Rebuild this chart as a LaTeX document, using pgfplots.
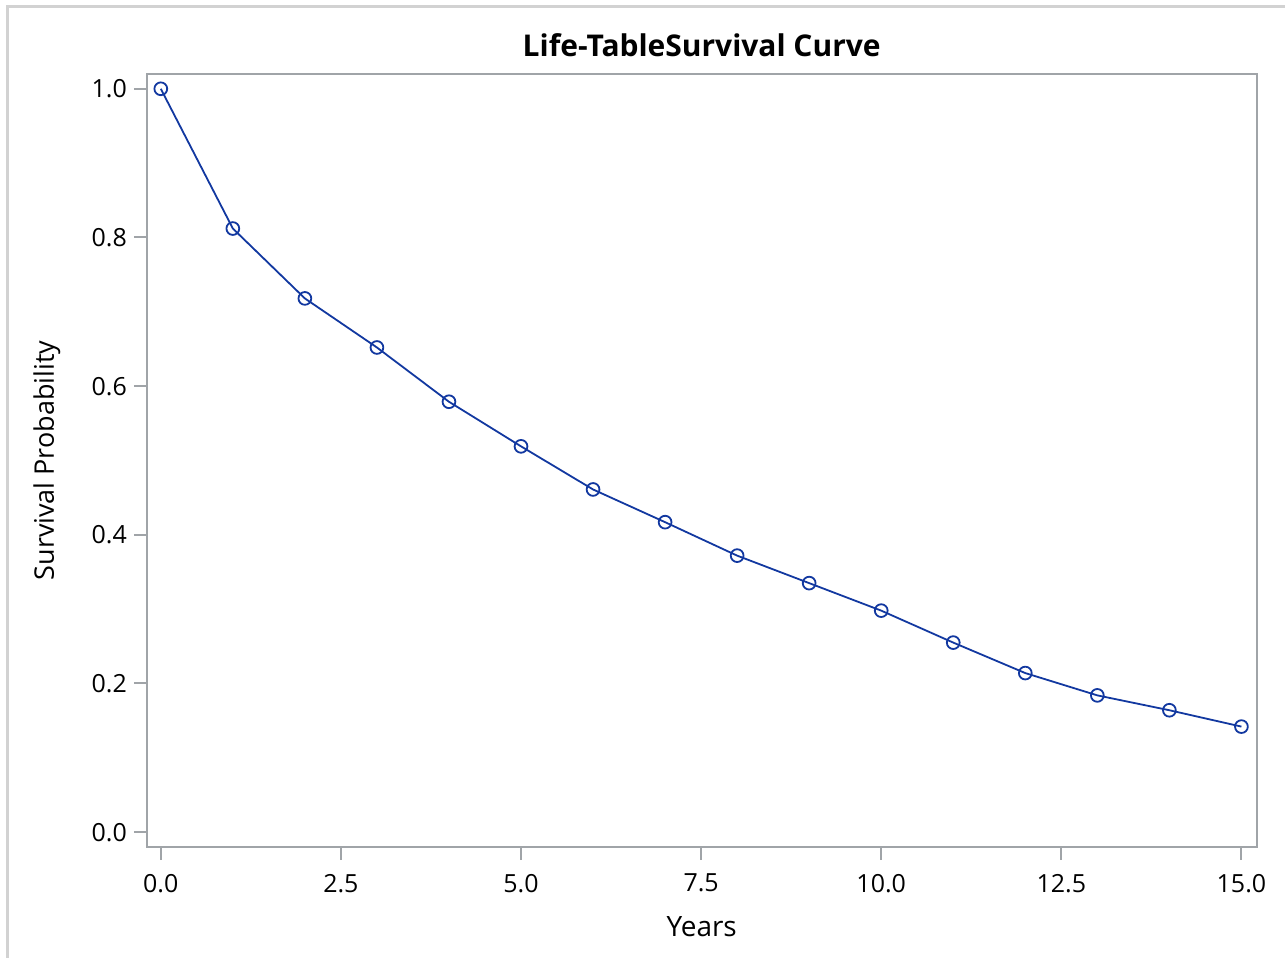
\documentclass[border=0pt]{standalone}
\usepackage{fontspec}
\setmainfont{Open Sans}
\usepackage{pgfplots}
\pgfplotsset{compat=1.18}
\definecolor{sasline}{RGB}{18,56,160}
\definecolor{axgray}{RGB}{160,164,168}
\definecolor{edge}{RGB}{210,210,210}
\begin{document}
\begin{tikzpicture}
% page is 1286x959 px at 0.5pt per px
\path (0pt,0pt) rectangle (643pt,479.5pt);
\draw[edge,line width=1.5pt] (4pt,0pt) -- (4pt,476pt) -- (643pt,476pt);
\begin{axis}[
  at={(73.5pt,55.5pt)}, anchor=south west,
  scale only axis,
  width=555.5pt, height=387pt,
  xmin=-0.194, xmax=15.21,
  ymin=-0.020, ymax=1.020,
  xtick={0,2.5,...,15}, ytick={0,0.2,...,1},
  xtick pos=bottom, ytick pos=left,
  xticklabel style={/pgf/number format/.cd,fixed,fixed zerofill,precision=1},
  yticklabel style={/pgf/number format/.cd,fixed,fixed zerofill,precision=1},
  xticklabel shift=3.5pt,
  /pgf/number format/assume math mode=true,
  tick align=outside, tick style={axgray,line width=1pt},
  major tick length=6.5pt,
  axis line style={axgray,line width=1pt},
  tick label style={font=\fontsize{12.5}{14}\selectfont},
  title={\bfseries Life-TableSurvival Curve},
  title style={font=\fontsize{15}{18}\selectfont, at={(axis description cs:0.5,1.022)}, anchor=center},
  xlabel={Years}, ylabel={Survival Probability},
  xlabel style={font=\fontsize{14}{16}\selectfont, at={(axis description cs:0.5,-0.1034)}, anchor=center},
  ylabel style={font=\fontsize{13.5}{16}\selectfont, at={(axis description cs:-0.090,0.5)}, anchor=center},
]
\addplot[sasline, line width=0.9pt, mark=o, mark size=3.2pt, mark options={line width=0.9pt}] coordinates {
(0,1.000) (1,0.812) (2,0.718) (3,0.652) (4,0.579) (5,0.519) (6,0.461) (7,0.417)
(8,0.372) (9,0.335) (10,0.298) (11,0.255) (12,0.214) (13,0.184) (14,0.164) (15,0.142)};
\end{axis}
\end{tikzpicture}
\end{document}
